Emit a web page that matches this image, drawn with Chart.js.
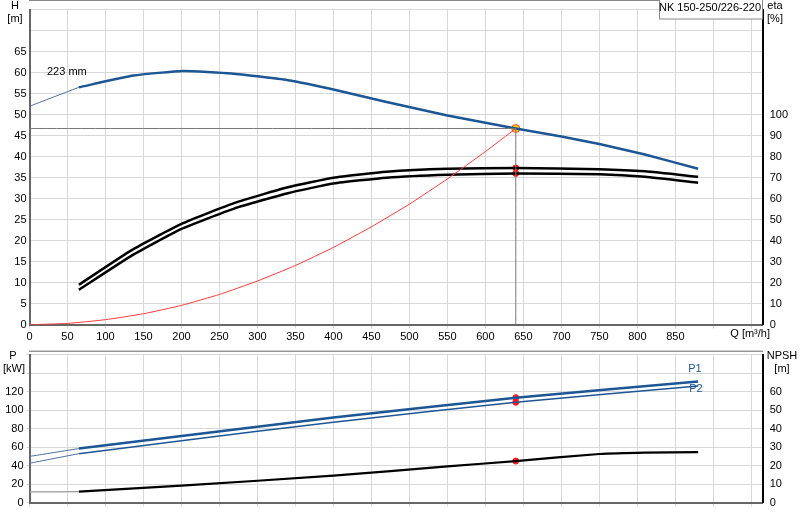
<!DOCTYPE html>
<html><head><meta charset="utf-8">
<script src="https://cdn.jsdelivr.net/npm/chart.js@4.4.0/dist/chart.umd.min.js"></script>
<style>body{margin:0;background:#fff;width:800px;height:520px;overflow:hidden;position:relative}
canvas{position:absolute;left:0}</style></head>
<body>
<div style="position:absolute;left:0;top:0;width:800px;height:345px"><canvas id="c1"></canvas></div>
<div style="position:absolute;left:0;top:345px;width:800px;height:175px"><canvas id="c2"></canvas></div>
<script>
const qTicks=[0,50,100,150,200,250,300,350,400,450,500,550,600,650,700,750,800,850,900,950];
const hQ=[65,137,202,266,340,400,470,550,640,700,750,810,880];
const hVal=[56.5,59.3,60.4,59.8,58.2,56,53,49.8,46.7,44.8,43,40.5,37.1];
const hExtQ=[0,65];const hExtVal=[52,56.5];
const etaQ=[65,135,200,270,340,400,470,550,640,750,810,880];
const eta1=[19,35.6,48,58,65.4,70,72.8,74.2,74.6,74,73,70.4];
const eta2=[16.6,33,45.6,55.4,62.6,67.2,70,71.4,72,71.6,70.4,67.6];
const sysQ=[0,50,100,150,200,250,300,350,400,450,500,550,600,640];
const sysH=[0,0.3,1.2,2.6,4.6,7.2,10.4,14.1,18.4,23.3,28.7,34.7,41.2,46.7];
const dutyQ=640,dutyH=46.7;
const pQ=[65,200,400,640,880];
const p1=[58.5,72,92,113.5,131];
const p2=[53,67,87,108.5,126];
const pExtQ=[0,65];const p1Ext=[50,58.5];const p2Ext=[42.6,53];
const nQ=[65,200,400,550,640,750,810,880];
const npsh=[6,9.2,14.6,19.6,22.5,26.3,27.1,27.3];
const nExtQ=[0,65];const nExt=[5.8,6];

const F='"Liberation Sans", Arial, sans-serif';
const zip=(a,b)=>a.map((x,i)=>({x,y:b[i]}));
const line=(data,color,w,yAxisID)=>({type:'line',data,borderColor:color,borderWidth:w,pointRadius:0,fill:false,tension:0.15,yAxisID});
const dot=(data,bg,bc,r,yAxisID)=>({type:'scatter',data,backgroundColor:bg,borderColor:bc,borderWidth:1,pointRadius:r,yAxisID});
const grid={color:'#d8d8d8',lineWidth:1};
const tickFont={family:F,size:11};
const xScale=(show)=>({type:'linear',min:0,max:965,afterBuildTicks:s=>{s.ticks=qTicks.map(v=>({value:v}))},
  ticks:{display:show,autoSkip:false,maxRotation:0,color:'#000',font:tickFont,padding:2,callback:v=>v<=850?v:''},
  grid:{...grid,drawTicks:true,tickLength:4},border:{color:'#666',width:2},
  afterFit:s=>{s.height=show?20.3:17.3}});
function txt(ctx,t,x,y,al,col){ctx.save();ctx.font='11px '+F;ctx.fillStyle=col||'#000';ctx.textAlign=al||'left';ctx.textBaseline='middle';ctx.fillText(t,x,y);ctx.restore();}

new Chart(document.getElementById('c1'),{
 data:{datasets:[
  line([{x:0,y:dutyH},{x:dutyQ,y:dutyH}],'#777',1,'y'),
  line([{x:dutyQ,y:dutyH},{x:dutyQ,y:0}],'#777',1,'y'),
  line(zip(sysQ,sysH),'#ff3b3b',1,'y'),
  line(zip(hExtQ,hExtVal),'#4d6f9c',1,'y'),
  line(zip(hQ,hVal),'#1d5694',2.5,'y'),
  line(zip(etaQ,eta1),'#000',2.5,'eta'),
  line(zip(etaQ,eta2),'#000',2.5,'eta'),
  dot([{x:dutyQ,y:eta1[8]},{x:dutyQ,y:eta2[8]}],'#ff1a1a','#ff1a1a',3,'eta'),
  dot([{x:dutyQ,y:dutyH}],'#ffd700','#ff4040',4,'y')
 ]},
 options:{responsive:true,maintainAspectRatio:false,animation:false,layout:{padding:0,autoPadding:false},
  plugins:{legend:{display:false},tooltip:{enabled:false}},
  scales:{
   x:xScale(true),
   y:{position:'left',min:0,max:75,ticks:{stepSize:5,color:'#000',font:tickFont,padding:3,callback:v=>v<=65?v:''},
      grid:{...grid,drawTicks:false},border:{color:'#666',width:2},afterFit:s=>{s.width=29.5}},
   eta:{position:'right',min:0,max:150,ticks:{stepSize:10,color:'#000',font:tickFont,padding:2,callback:v=>v<=100?v:''},
      grid:{display:false,drawTicks:true,tickLength:5},border:{color:'#000',width:2},afterFit:s=>{s.width=37.3}}
  }},
 plugins:[{id:'t1',afterDraw(c){const ctx=c.ctx;
  ctx.save();ctx.strokeStyle='#888';ctx.lineWidth=1;ctx.beginPath();ctx.moveTo(29,0.5);ctx.lineTo(763,0.5);ctx.stroke();ctx.restore();
  txt(ctx,'H',15,6,'center');txt(ctx,'[m]',15,19,'center');
  txt(ctx,'eta',775,6,'center');txt(ctx,'[%]',775,19,'center');
  txt(ctx,'Q [m³/h]',770,334,'right');
  txt(ctx,'223 mm',47,72);
  ctx.save();ctx.fillStyle='#fff';ctx.fillRect(659,0,103,19);ctx.strokeStyle='#888';ctx.lineWidth=1;ctx.strokeRect(659.5,-1,103,20);ctx.restore();
  txt(ctx,'NK 150-250/226-220',710,8,'center');
 }}]
});

new Chart(document.getElementById('c2'),{
 data:{datasets:[
  line(zip(pExtQ,p1Ext),'#4d6f9c',1,'y'),
  line(zip(pExtQ,p2Ext),'#4d6f9c',1,'y'),
  line(zip(pQ,p1),'#1d5694',2.5,'y'),
  line(zip(pQ,p2),'#1d5694',1.5,'y'),
  line(zip(nExtQ,nExt),'#999',1.2,'n'),
  line(zip(nQ,npsh),'#000',2.2,'n'),
  dot([{x:dutyQ,y:p1[3]},{x:dutyQ,y:p2[3]}],'#ff1a1a','#ff1a1a',3,'y'),
  dot([{x:dutyQ,y:npsh[4]}],'#ff1a1a','#ff1a1a',3,'n')
 ]},
 options:{responsive:true,maintainAspectRatio:false,animation:false,layout:{padding:{top:5.7},autoPadding:false},
  plugins:{legend:{display:false},tooltip:{enabled:false}},
  scales:{
   x:xScale(false),
   y:{position:'left',min:0,max:160,ticks:{stepSize:20,color:'#000',font:tickFont,padding:3,callback:v=>v<=120?v:''},
      grid:{...grid,drawTicks:true,tickLength:3},border:{color:'#666',width:2},afterFit:s=>{s.width=29.5}},
   n:{position:'right',min:0,max:80,ticks:{stepSize:10,color:'#000',font:tickFont,padding:2,callback:v=>v<=60?v:''},
      grid:{display:false,drawTicks:true,tickLength:5},border:{color:'#000',width:2},afterFit:s=>{s.width=37.3}}
  }},
 plugins:[{id:'t2',afterDraw(c){const ctx=c.ctx;
  ctx.save();ctx.strokeStyle='#666';ctx.lineWidth=1;ctx.beginPath();ctx.moveTo(29,6.2);ctx.lineTo(763,6.2);ctx.stroke();ctx.restore();
  txt(ctx,'P',13,11,'center');txt(ctx,'[kW]',14,24,'center');
  txt(ctx,'NPSH',782,11,'center');txt(ctx,'[m]',782,24,'center');
  txt(ctx,'P1',695,24,'center','#1d5694');txt(ctx,'P2',696,44,'center','#1d5694');
 }}]
});
</script></body></html>
